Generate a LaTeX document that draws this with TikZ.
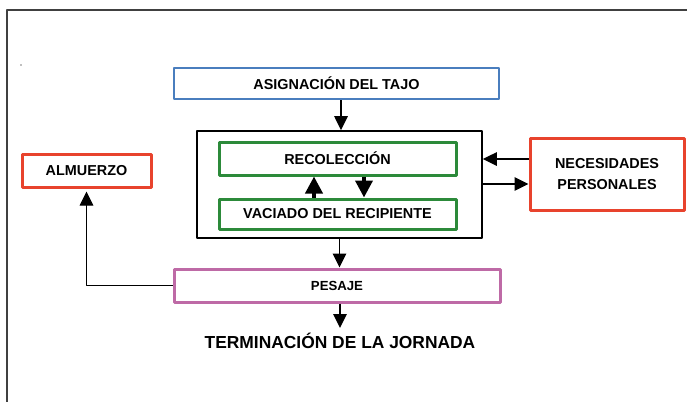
\documentclass[tikz,border=0pt]{standalone}
\usepackage{fontspec}
\setmainfont{Liberation Sans}
\usetikzlibrary{arrows.meta}
\definecolor{azul}{RGB}{74,126,190}
\definecolor{verde}{RGB}{44,138,58}
\definecolor{rojo}{RGB}{232,67,45}
\definecolor{lila}{RGB}{190,106,166}
\begin{document}
\begin{tikzpicture}[x=1pt,y=-1pt,>={Triangle[length=14pt,width=13.5pt]}, line join=round,
    caja/.style={draw,line width=3pt,inner sep=0pt,align=center,font=\fontsize{14.4}{21}\selectfont\bfseries},
    flecha/.style={->,line width=1.5pt},
    gruesa/.style={-{Triangle[length=17pt,width=17pt]},line width=3.8pt}]
    \useasboundingbox (0,0) rectangle (687,402);
    % marco
    \draw[line width=1.5pt,black!75] (687,10)--(7,10)--(7,402);
    \fill[black!50] (21,65) circle (0.8pt);
    % cajas
    \node[caja,draw=azul,line width=2.3pt,minimum width=325pt,minimum height=31pt] (asig) at (336.5,83.5) {ASIGNACIÓN DEL TAJO};
    \node[draw,line width=1.8pt,minimum width=285pt,minimum height=107pt] (proc) at (339.5,184.5) {};
    \node[caja,draw=verde,minimum width=237pt,minimum height=33pt] (reco) at (337.5,158.5) {RECOLECCIÓN};
    \node[caja,draw=verde,minimum width=237pt,minimum height=30pt] (vaci) at (337.5,214) {VACIADO DEL RECIPIENTE};
    \node[caja,draw=rojo,minimum width=129pt,minimum height=33pt] (alm) at (86.5,170.5) {ALMUERZO};
    \node[caja,draw=rojo,minimum width=154pt,minimum height=72pt] (nec) at (607,174) {NECESIDADES\\PERSONALES};
    \node[caja,draw=lila,minimum width=326pt,minimum height=33pt,font=\fontsize{13.2}{15}\selectfont\bfseries] (pes) at (337,285.5) {PESAJE};
    \node[anchor=north,inner xsep=0pt,inner ysep=7.5pt,text height=12.5pt,text depth=0pt,font=\fontsize{17.4}{20}\selectfont\bfseries] (term) at (340,328) {TERMINACIÓN DE LA JORNADA};
    % flechas
    \draw[flecha] ([xshift=1.5pt]asig.south -| proc.north)--([xshift=1.5pt]proc.north);
    \draw[flecha] (proc.south)--(proc.south |- pes.north);
    \draw[flecha] (term.north |- pes.south)--(term.north);
    \draw[flecha] ([yshift=15pt]nec.west)--([yshift=15pt]nec.west -| proc.east);
    \draw[flecha] ([yshift=-10pt]nec.west -| proc.east)--([yshift=-10pt]nec.west);
    \draw[gruesa] ([xshift=-23.5pt]vaci.north)--([xshift=-23.5pt]reco.south);
    \draw[gruesa] ([xshift=26.5pt]reco.south)--([xshift=26.5pt]vaci.north);
    \draw[->,line width=1pt,shorten >=3pt] (pes.west) -| (alm.south);
\end{tikzpicture}
\end{document}
